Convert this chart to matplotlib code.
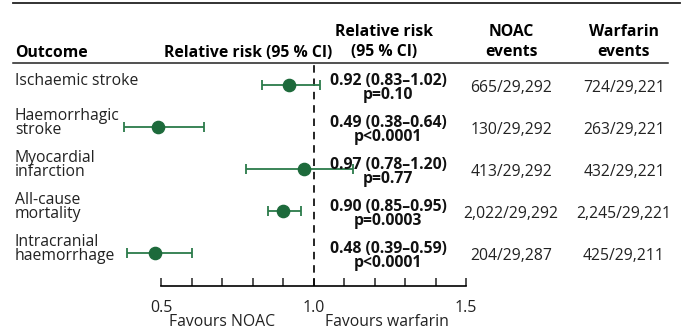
import matplotlib.pyplot as plt
import matplotlib.transforms as mtransforms
from matplotlib.ticker import MultipleLocator

plt.rcParams['font.family'] = ['Open Sans', 'DejaVu Sans']

outcomes = ["Ischaemic stroke", "Haemorrhagic\nstroke", "Myocardial\ninfarction",
            "All-cause\nmortality", "Intracranial\nhaemorrhage"]
rr = [0.92, 0.49, 0.97, 0.90, 0.48]
ci_low = [0.83, 0.38, 0.78, 0.85, 0.39]
ci_high = [1.02, 0.64, 1.13, 0.96, 0.60]   # as drawn in the picture
rr_text = ["0.92 (0.83\u20131.02)", "0.49 (0.38\u20130.64)", "0.97 (0.78\u20131.20)",
           "0.90 (0.85\u20130.95)", "0.48 (0.39\u20130.59)"]
p_text = ["p=0.10", "p<0.0001", "p=0.77", "p=0.0003", "p<0.0001"]
noac_events = ["665/29,292", "130/29,292", "413/29,292", "2,022/29,292", "204/29,287"]
warf_events = ["724/29,221", "263/29,221", "432/29,221", "2,245/29,221", "425/29,211"]

W, H = 686, 331
fig = plt.figure(figsize=(W / 100, H / 100), dpi=100)

# forest axes placed in pixel terms
x0, x1 = 161, 466
ytop, ybot = 63, 286
ax = fig.add_axes([x0 / W, (H - ybot) / H, (x1 - x0) / W, (ybot - ytop) / H])
ax.set_xlim(0.5, 1.5)
ax.set_ylim(4.79, -0.52)

green_dot = '#1d6a3b'
green_line = '#2b7b4a'
rows = list(range(len(outcomes)))
for i in rows:
    ax.errorbar(rr[i], i, xerr=[[rr[i] - ci_low[i]], [ci_high[i] - rr[i]]],
                fmt='o', ms=8.8, mfc=green_dot, mec=green_dot, ecolor=green_line,
                elinewidth=1.3, capsize=3.6, capthick=1.3, zorder=3, clip_on=False)

ax.axvline(1.0, color='black', lw=1.2, ls=(0, (4.5, 3.5)), zorder=2)

for s in ['top', 'left', 'right']:
    ax.spines[s].set_visible(False)
ax.spines['bottom'].set_linewidth(1.2)
ax.set_yticks([])
ax.set_xticks([0.5, 1.0, 1.5])
ax.set_xticklabels(["0.5", "1.0", "1.5"])
ax.xaxis.set_minor_locator(MultipleLocator(0.1))
ax.tick_params(axis='x', which='both', direction='in', length=6, width=1.1,
               labelsize=11.5, pad=10, colors='#222222')
ax.patch.set_alpha(0)

# text columns, x in figure pixels, y in data rows
tr = mtransforms.blended_transform_factory(fig.transFigure, ax.transData)
fs = 11.3
for i in rows:
    fig.text(15 / W, i - 0.09, outcomes[i], transform=tr, ha='left', va='center',
             fontsize=fs, linespacing=0.85, color='#222222')
    ax.text(388 / W, i + 0.07, rr_text[i] + "\n" + p_text[i], transform=tr,
            ha='center', va='center', multialignment='center', linespacing=0.82,
            fontsize=fs, fontweight='bold', color='#111111', zorder=5)
    fig.text(511 / W, i + 0.08, noac_events[i], transform=tr, ha='center', va='center',
             fontsize=fs, color='#222222')
    fig.text(624 / W, i + 0.08, warf_events[i], transform=tr, ha='center', va='center',
             fontsize=fs, color='#222222')

# headers
def px(x, y):
    return x / W, 1 - y / H

fig.text(*px(15, 53), "Outcome", ha='left', va='center', fontsize=fs, fontweight='bold')
fig.text(*px(248, 53), "Relative risk (95 % CI)", ha='center', va='center',
         fontsize=fs, fontweight='bold')
fig.text(*px(384, 32), "Relative risk", ha='center', va='center', fontsize=fs, fontweight='bold')
fig.text(*px(384, 52), "(95 % CI)", ha='center', va='center', fontsize=fs, fontweight='bold')
fig.text(*px(511, 32), "NOAC", ha='center', va='center', fontsize=fs, fontweight='bold')
fig.text(*px(511, 52), "events", ha='center', va='center', fontsize=fs, fontweight='bold')
fig.text(*px(624, 32), "Warfarin", ha='center', va='center', fontsize=fs, fontweight='bold')
fig.text(*px(624, 52), "events", ha='center', va='center', fontsize=fs, fontweight='bold')

fig.add_artist(plt.Line2D([13 / W, 680 / W], [1 - 3 / H, 1 - 3 / H], color='#222222', lw=1.3))
fig.add_artist(plt.Line2D([13 / W, 668 / W], [1 - 63 / H, 1 - 63 / H], color='#222222', lw=1.1))

fig.text(*px(222, 322), "Favours NOAC", ha='center', va='center', fontsize=fs, color='#222222')
fig.text(*px(387, 322), "Favours warfarin", ha='center', va='center', fontsize=fs, color='#222222')

fig.savefig("out.png", dpi=100)
